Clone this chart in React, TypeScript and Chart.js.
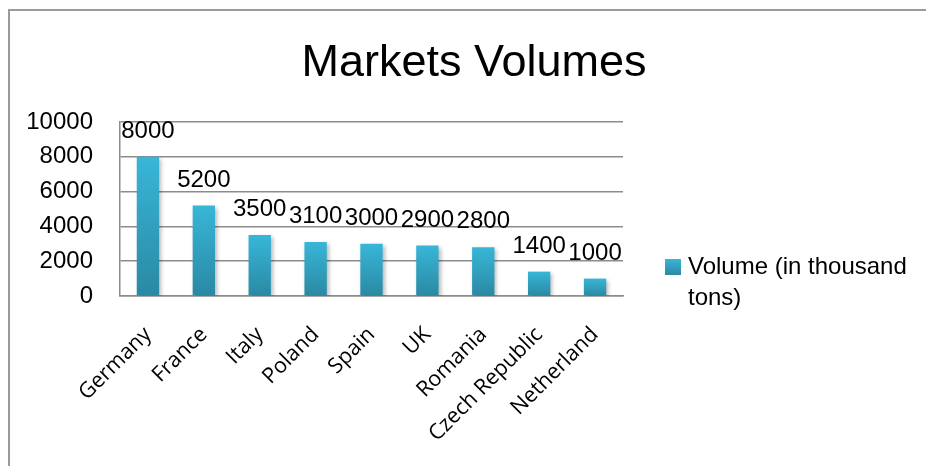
import React, { useEffect, useRef } from 'react';
import { Chart, registerables } from 'chart.js';

Chart.register(...registerables);

const chartTitle = 'Markets Volumes';
const categories = ['Germany', 'France', 'Italy', 'Poland', 'Spain', 'UK', 'Romania', 'Czech Republic', 'Netherland'];
const volumes = [8000, 5200, 3500, 3100, 3000, 2900, 2800, 1400, 1000];
const yTickValues = [0, 2000, 4000, 6000, 8000, 10000];
const seriesLabel = 'Volume (in thousand tons)';
const legendLines = ['Volume (in thousand', 'tons)'];

const FONT = "'Liberation Sans', Arial, sans-serif";
const LABEL_FONT = "'Open Sans', 'Liberation Sans', sans-serif";
const TOP_COLOR = '#38b6d8';
const BOTTOM_COLOR = '#2a89a3';
const GRID_COLOR = '#8c8c8c';

const barFill = (ctx: any) => {
  const chart = ctx.chart;
  const { chartArea, scales } = chart;
  if (!chartArea || ctx.type !== 'data' || !scales.y) return TOP_COLOR;
  const top = scales.y.getPixelForValue(ctx.raw);
  const bottom = scales.y.getPixelForValue(0);
  const g = chart.ctx.createLinearGradient(0, top, 0, bottom);
  g.addColorStop(0, TOP_COLOR);
  g.addColorStop(1, BOTTOM_COLOR);
  return g;
};

const framePlugin = {
  id: 'frameTitleLegend',
  beforeDraw(chart: any) {
    const c = chart.ctx;
    c.save();
    c.fillStyle = '#ffffff';
    c.fillRect(0, 0, chart.width, chart.height);
    c.strokeStyle = '#9a9a9a';
    c.lineWidth = 2;
    c.beginPath();
    c.moveTo(9, chart.height + 2);
    c.lineTo(9, 10);
    c.lineTo(chart.width + 2, 10);
    c.stroke();
    c.restore();
  },
  beforeDatasetsDraw(chart: any) {
    const c = chart.ctx;
    c.save();
    c.shadowColor = 'rgba(0,0,0,0.28)';
    c.shadowBlur = 4;
    c.shadowOffsetX = 2;
    c.shadowOffsetY = 2;
  },
  afterDatasetsDraw(chart: any) {
    const c = chart.ctx;
    c.restore();
    c.save();
    c.fillStyle = '#000';
    c.font = `24px ${FONT}`;
    c.textAlign = 'center';
    c.textBaseline = 'alphabetic';
    const meta = chart.getDatasetMeta(0);
    meta.data.forEach((el: any, i: number) => {
      c.fillText(String(chart.data.datasets[0].data[i]), el.x, el.y - 19);
    });
    c.restore();
  },
  afterDraw(chart: any) {
    const c = chart.ctx;
    c.save();
    c.fillStyle = '#000';
    c.font = `45px ${FONT}`;
    c.textAlign = 'center';
    c.textBaseline = 'alphabetic';
    c.fillText(chartTitle, 474, 76);
    const g = c.createLinearGradient(0, 259, 0, 275);
    g.addColorStop(0, TOP_COLOR);
    g.addColorStop(1, BOTTOM_COLOR);
    c.fillStyle = g;
    c.fillRect(665, 259, 16, 16);
    c.fillStyle = '#000';
    c.font = `24px ${FONT}`;
    c.textAlign = 'left';
    c.textBaseline = 'middle';
    legendLines.forEach((line, i) => {
      c.fillText(line, 688, 267 + i * 31);
    });
    c.restore();
  },
};

export default function App() {
  const ref = useRef<HTMLCanvasElement>(null);
  useEffect(() => {
    if (!ref.current) return;
    const chart = new Chart(ref.current, {
      type: 'bar',
      data: {
        labels: categories,
        datasets: [
          {
            label: seriesLabel,
            data: volumes,
            backgroundColor: barFill,
            borderWidth: 0,
            barPercentage: 0.4,
            categoryPercentage: 1,
          },
        ],
      },
      options: {
        responsive: false,
        animation: false,
        layout: { padding: { left: 0, right: 303, top: 122, bottom: 0 } },
        plugins: {
          legend: { display: false },
          title: { display: false },
          tooltip: { enabled: false },
        },
        scales: {
          x: {
            grid: { display: false, drawTicks: false },
            border: { display: true, color: GRID_COLOR, width: 1.5 },
            ticks: {
              color: '#000',
              font: { family: LABEL_FONT, size: 21.5 },
              minRotation: 45,
              maxRotation: 45,
              padding: 26,
              autoSkip: false,
            },
            afterFit: (scale: any) => {
              scale.height = 170;
            },
          },
          y: {
            min: 0,
            max: 10000,
            afterBuildTicks: (scale: any) => {
              scale.ticks = yTickValues.map((v) => ({ value: v }));
            },
            grid: { color: GRID_COLOR, lineWidth: 1.5, drawTicks: false },
            border: { display: true, color: GRID_COLOR, width: 1.5 },
            ticks: {
              color: '#000',
              font: { family: FONT, size: 24 },
              padding: 27,
              callback: (v: any) => String(v),
            },
            afterFit: (scale: any) => {
              scale.width = 120;
            },
          },
        },
      },
      plugins: [framePlugin],
    });
    return () => chart.destroy();
  }, []);
  return (
    <div style={{ position: 'fixed', left: 0, top: 0, width: 926, height: 466, background: '#fff' }}>
      <canvas ref={ref} width={926} height={466} style={{ display: 'block' }} />
    </div>
  );
}
